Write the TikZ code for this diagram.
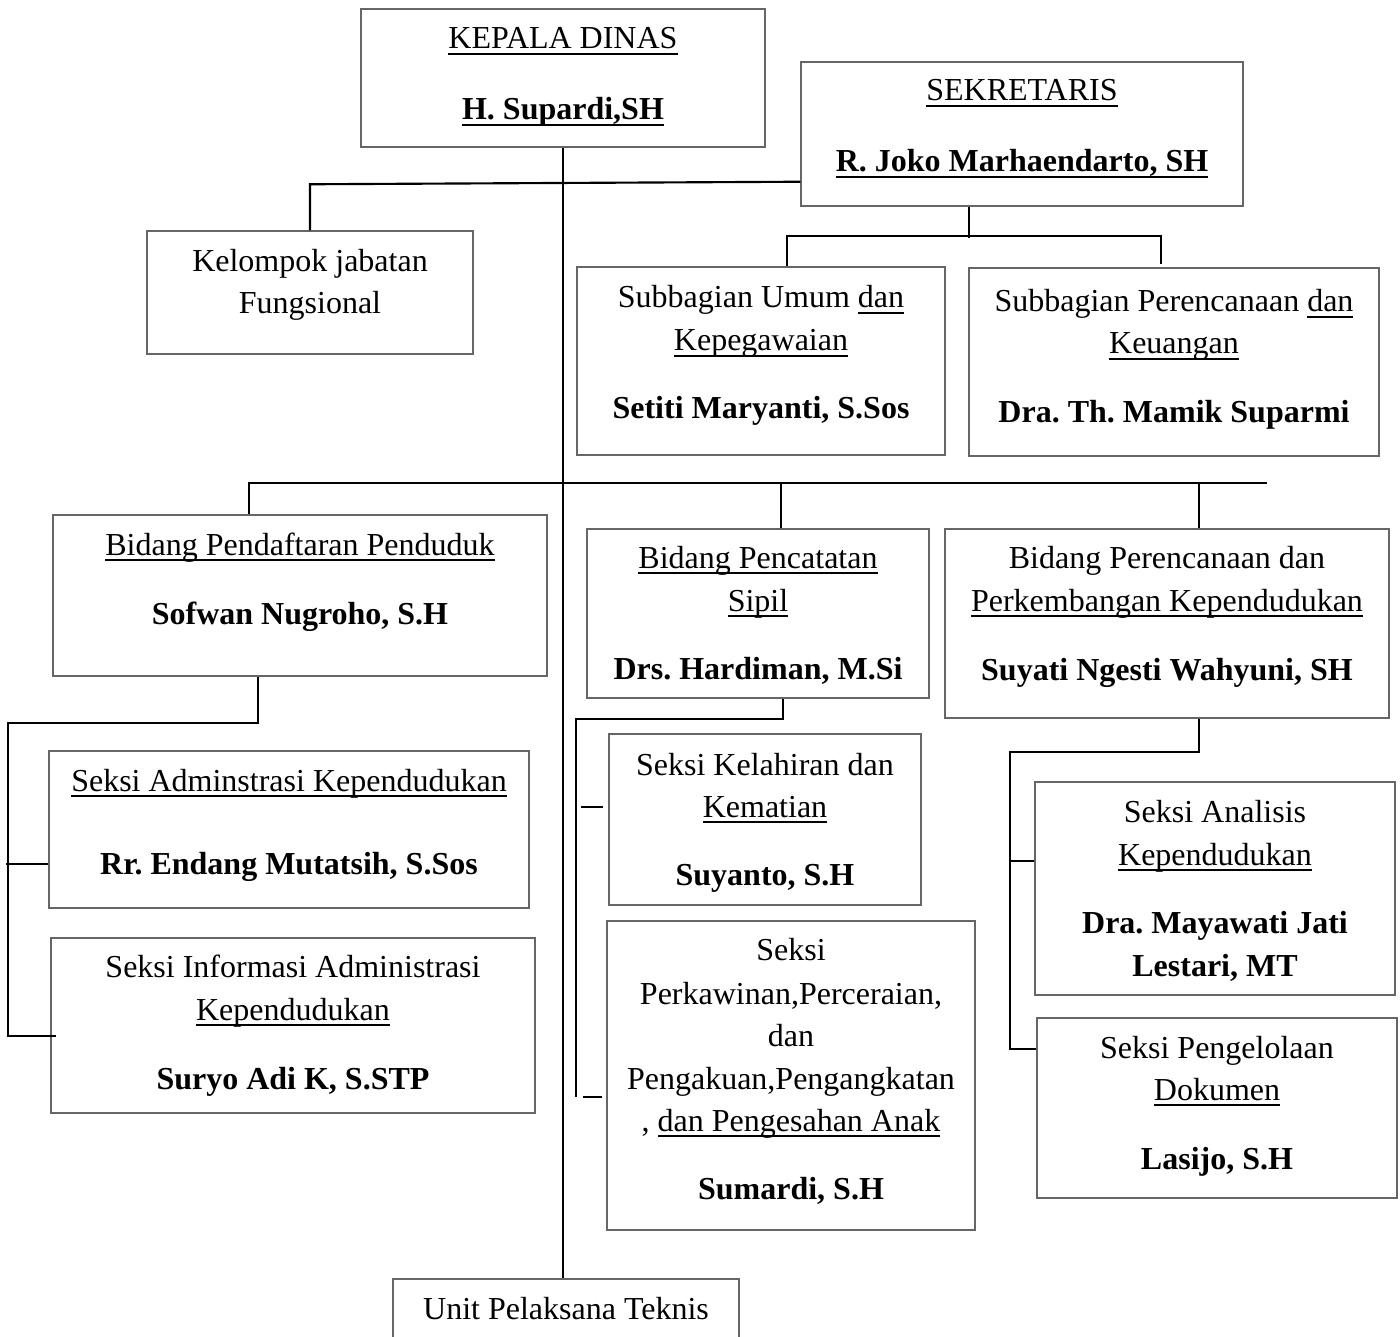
\documentclass[tikz,border=0pt]{standalone}
\usepackage{fontspec}
\setmainfont{Liberation Serif}
\usetikzlibrary{fit,calc}
% underline at a fixed depth below the baseline
\newcommand\uln[1]{\setbox0\hbox{#1}\rlap{\rule[-2.1pt]{\wd0}{0.6pt}}\box0}

\begin{document}
\frenchspacing
\begin{tikzpicture}[x=0.375pt,y=-0.375pt,
  box/.style={draw=black!60, line width=0.55pt, inner sep=0pt},
  txt/.style={anchor=base, inner sep=0pt, yshift=-0.75pt, font=\fontsize{12pt}{14pt}\selectfont},
  nm/.style={txt, font=\fontsize{12pt}{14pt}\selectfont\bfseries},
  link/.style={draw=black, line width=0.8pt}
]
\useasboundingbox (0,0) rectangle (1400,1337);
\clip (0,0) rectangle (1400,1337);

% ---------- boxes ----------
\node[box, fit={(361,9)(765,147)}] (kd) {};
\node[box, fit={(801,62)(1243,206)}] (sek) {};
\node[box, fit={(147,231)(473,354)}] (kjf) {};
\node[box, fit={(577,267)(945,455)}] (umum) {};
\node[box, fit={(969,268)(1379,456)}] (keu) {};
\node[box, fit={(53,515)(547,676)}] (pendaf) {};
\node[box, fit={(587,529)(929,698)}] (pencat) {};
\node[box, fit={(945,529)(1389,718)}] (perbid) {};
\node[box, fit={(49,751)(529,908)}] (adm) {};
\node[box, fit={(51,938)(535,1113)}] (info) {};
\node[box, fit={(609,734)(921,905)}] (kel) {};
\node[box, fit={(607,921)(975,1230)}] (kawin) {};
\node[box, fit={(1035,782)(1395,995)}] (anal) {};
\node[box, fit={(1037,1018)(1397,1198)}] (kelola) {};
\node[box, fit={(393,1279)(739,1360)}] (upt) {};

% ---------- texts ----------
\node[txt] (kd1) at (563,47) {\uln{KEPALA DINAS}};
\node[nm]  (kd2) at (563,118) {\uln{H. Supardi,SH}};

\node[txt] (sek1) at (1022,99) {\uln{SEKRETARIS}};
\node[nm]  (sek2) at (1022,170) {\uln{R. Joko Marhaendarto, SH}};

\node[txt] (kjf1) at (310,270) {Kelompok jabatan};
\node[txt] (kjf2) at (310,312) {Fungsional};

\node[txt] (umum1) at (761,306) {Subbagian Umum \uln{dan}};
\node[txt] (umum2) at (761,349) {\uln{Kepegawaian}};
\node[nm]  (umum3) at (761,417) {Setiti Maryanti, S.Sos};

\node[txt] (keu1) at (1174,310) {Subbagian Perencanaan \uln{dan}};
\node[txt] (keu2) at (1174,352) {\uln{Keuangan}};
\node[nm]  (keu3) at (1174,421) {Dra. Th. Mamik Suparmi};

\node[txt] (pendaf1) at (300,553) {\uln{Bidang Pendaftaran Penduduk}};
\node[nm]  (pendaf2) at (300,622) {Sofwan Nugroho, S.H};

\node[txt] (pencat1) at (758,566) {\uln{Bidang Pencatatan}};
\node[txt] (pencat2) at (758,609) {\uln{Sipil}};
\node[nm]  (pencat3) at (758,677) {Drs. Hardiman, M.Si};

\node[txt] (perbid1) at (1167,566) {Bidang Perencanaan dan};
\node[txt] (perbid2) at (1167,609) {\uln{Perkembangan Kependudukan}};
\node[nm]  (perbid3) at (1167,678) {Suyati Ngesti Wahyuni, SH};

\node[txt] (adm1) at (289,789) {\uln{Seksi Adminstrasi Kependudukan}};
\node[nm]  (adm2) at (289,872) {Rr. Endang Mutatsih, S.Sos};

\node[txt] (info1) at (293,975) {Seksi Informasi Administrasi};
\node[txt] (info2) at (293,1018) {\uln{Kependudukan}};
\node[nm]  (info3) at (293,1087) {Suryo Adi K, S.STP};

\node[txt] (kel1) at (765,773) {Seksi Kelahiran dan};
\node[txt] (kel2) at (765,815) {\uln{Kematian}};
\node[nm]  (kel3) at (765,883) {Suyanto, S.H};

\node[txt] (kawin1) at (791,958) {Seksi};
\node[txt] (kawin2) at (791,1002) {Perkawinan,Perceraian,};
\node[txt] (kawin3) at (791,1044) {dan};
\node[txt] (kawin4) at (791,1087) {Pengakuan,Pengangkatan};
\node[txt] (kawin5) at (791,1129) {, \uln{dan Pengesahan Anak}};
\node[nm]  (kawin6) at (791,1197) {Sumardi, S.H};

\node[txt] (anal1) at (1215,820) {Seksi Analisis};
\node[txt] (anal2) at (1215,863) {\uln{Kependudukan}};
\node[nm]  (anal3) at (1215,931) {Dra. Mayawati Jati};
\node[nm]  (anal4) at (1215,974) {Lestari, MT};

\node[txt] (kelola1) at (1217,1056) {Seksi Pengelolaan};
\node[txt] (kelola2) at (1217,1098) {\uln{Dokumen}};
\node[nm]  (kelola3) at (1217,1167) {Lasijo, S.H};

\node[txt] (upt1) at (566,1317) {Unit Pelaksana Teknis};

% ---------- connectors ----------
% main line from the head down to the technical unit
\draw[link] (kd.south) -- (kd.south |- upt.north);

% secretary line with the functional group
\draw[link] (kjf.north) -- ++(0,-46) -- ($(sek.south west)+(0,-25)$);

% secretary to the two subdivisions
\draw[link] ($(sek.south)+(-53,0)$) -- ++(0,31);
\draw[link] ($(umum.north)+(26,0)$) -- ++(0,-30) -- ++(374,0) -- ++(0,28);

% bus to the three divisions
\draw[link] ($(pendaf.north)+(-51,0)$) -- ++(0,-31) -- ++(1018,0);
\draw[link] ($(pencat.north)+(23,0)$) -- ++(0,-45);
\draw[link] ($(perbid.north)+(32,0)$) -- ++(0,-45);

% registration division sections
\draw[link] ($(pendaf.south)+(-42,0)$) -- ++(0,46) -| ($(info.north west)+(-42,99)$) -- ++(48,0);
\draw[link] ($(adm.south west)+(0,-45)$) -- ++(-42,0);

% civil records division sections
\draw[link] ($(pencat.south)+(25,0)$) -- ++(0,20) -| ($(kawin.north west)+(-30,177)$);
\draw[link] ($(kel.north west)+(-5,74)$) -- ++(-22,0);
\draw[link] ($(kawin.north west)+(-4,177)$) -- ++(-19,0);

% planning division sections
\draw[link] ($(perbid.south)+(32,0)$) -- ++(0,33) -| ($(kelola.north west)+(-26,32)$) -- ++(26,0);
\draw[link] ($(anal.north west)+(0,80)$) -- ++(-24,0);
\end{tikzpicture}
\end{document}
